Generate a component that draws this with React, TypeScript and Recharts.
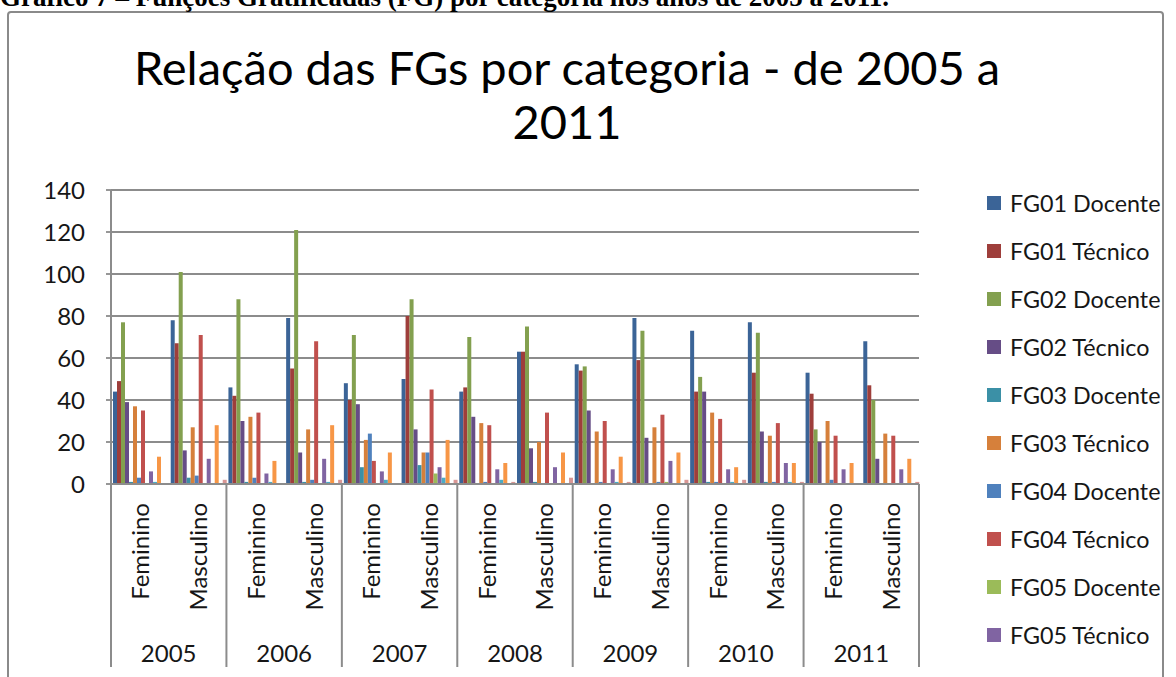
import React from 'react';
import { BarChart, Bar, XAxis, YAxis, CartesianGrid, Legend } from 'recharts';

const years = ['2005', '2006', '2007', '2008', '2009', '2010', '2011'];
const sexes = ['Feminino', 'Masculino'];
const yTicks = [0, 20, 40, 60, 80, 100, 120, 140];

const seriesNames = [
  'FG01 Docente', 'FG01 Técnico', 'FG02 Docente', 'FG02 Técnico', 'FG03 Docente',
  'FG03 Técnico', 'FG04 Docente', 'FG04 Técnico', 'FG05 Docente', 'FG05 Técnico',
  'FG06 Docente', 'FG06 Técnico', 'FG07 Docente', 'FG07 Técnico',
];
const seriesColors = [
  '#3B6497', '#9E3E3B', '#83A04F', '#664D86', '#3B90A6', '#D6803B', '#4F81BD',
  '#C0504D', '#9BBB59', '#8064A2', '#4BACC6', '#F79646', '#95B3D7', '#D99694',
];
// the legend box of the original only has room for the first ten entries
const legendShown = 10;

// order: 2005 F, 2005 M, 2006 F, 2006 M, ... 2011 F, 2011 M
const fg01Docente = [44, 78, 46, 79, 48, 50, 44, 63, 57, 79, 73, 77, 53, 68];
const fg01Tecnico = [49, 67, 42, 55, 40, 80, 46, 63, 54, 59, 44, 53, 43, 47];
const fg02Docente = [77, 101, 88, 121, 71, 88, 70, 75, 56, 73, 51, 72, 26, 40];
const fg02Tecnico = [39, 16, 30, 15, 38, 26, 32, 17, 35, 22, 44, 25, 20, 12];
const fg03Docente = [1, 3, 1, 1, 8, 9, 0, 1, 0, 0, 1, 1, 0, 0];
const fg03Tecnico = [37, 27, 32, 26, 21, 15, 29, 20, 25, 27, 34, 23, 30, 24];
const fg04Docente = [3, 4, 3, 2, 24, 15, 1, 0, 1, 1, 1, 1, 2, 0];
const fg04Tecnico = [35, 71, 34, 68, 11, 45, 28, 34, 30, 33, 31, 29, 23, 23];
const fg05Docente = [0, 0, 0, 0, 0, 5, 0, 0, 0, 1, 0, 0, 0, 0];
const fg05Tecnico = [6, 12, 5, 12, 6, 8, 7, 8, 7, 11, 7, 10, 7, 7];
const fg06Docente = [1, 0, 1, 1, 2, 3, 2, 0, 1, 0, 1, 1, 0, 0];
const fg06Tecnico = [13, 28, 11, 28, 15, 21, 10, 15, 13, 15, 8, 10, 10, 12];
const fg07Docente = [0, 0, 0, 0, 0, 0, 0, 0, 0, 0, 0, 0, 0, 0];
const fg07Tecnico = [0, 2, 0, 2, 0, 2, 1, 3, 1, 2, 2, 1, 0, 1];

const seriesValues = [
  fg01Docente, fg01Tecnico, fg02Docente, fg02Tecnico, fg03Docente, fg03Tecnico, fg04Docente,
  fg04Tecnico, fg05Docente, fg05Tecnico, fg06Docente, fg06Tecnico, fg07Docente, fg07Tecnico,
];

const data = years.flatMap((yr, yi) =>
  sexes.map((sx, si) => {
    const idx = yi * 2 + si;
    const row: Record<string, any> = { key: `${yr}|${sx}`, year: yr, sex: sx };
    seriesNames.forEach((_, k) => {
      row[`s${k}`] = seriesValues[k][idx];
    });
    return row;
  })
);

const FONT = 'Lato, "Open Sans", sans-serif';
const TEXT = '#161616';
const GRID = '#8c8c8c';

const SexTick = (props: any) => {
  const { x, y, payload } = props;
  const ty = y + 19;
  return (
    <text
      x={x}
      y={ty}
      transform={`rotate(-90 ${x} ${ty})`}
      textAnchor="end"
      dominantBaseline="central"
      fontSize={24}
      fontFamily={FONT}
      fill={TEXT}
    >
      {payload.value}
    </text>
  );
};

const YearTick = (props: any) => {
  const { x, y, payload, index } = props;
  const [yr, sx] = String(payload.value).split('|');
  const half = payload.offset || 0;
  const top = y - 121;
  const bottom = y + 62;
  const isFirst = sx === sexes[0];
  const isLast = index === data.length - 1;
  return (
    <g>
      {isFirst && (
        <line x1={x - half} x2={x - half} y1={top} y2={bottom} stroke={GRID} strokeWidth={2} />
      )}
      {isLast && (
        <line x1={x + half} x2={x + half} y1={top} y2={bottom} stroke={GRID} strokeWidth={2} />
      )}
      {isFirst && (
        <text
          x={x + half}
          y={y + 47}
          textAnchor="middle"
          dominantBaseline="central"
          fontSize={24}
          fontFamily={FONT}
          fill={TEXT}
        >
          {yr}
        </text>
      )}
    </g>
  );
};

const LegendContent = () => (
  <div style={{ fontFamily: FONT, fontSize: 23.3, color: TEXT }}>
    {seriesNames.slice(0, legendShown).map((n, i) => (
      <div key={n} style={{ height: 48, display: 'flex', alignItems: 'center', whiteSpace: 'nowrap' }}>
        <span
          style={{
            display: 'inline-block',
            width: 14,
            height: 14,
            background: seriesColors[i],
            marginRight: 9,
          }}
        />
        <span>{n}</span>
      </div>
    ))}
  </div>
);

const W = 1176;
const H = 900;

export default function App() {
  return (
    <div style={{ position: 'absolute', left: 0, top: 0, width: W, height: H, background: '#fff', overflow: 'hidden' }}>
      <div
        style={{
          position: 'absolute',
          left: 7,
          top: 11,
          width: 1157,
          height: H,
          border: `2px solid #8a8a8a`,
          borderRadius: 4,
          boxSizing: 'border-box',
        }}
      />
      <BarChart
        width={W}
        height={H}
        data={data}
        margin={{ top: 190, right: 257, bottom: H - 484 - 183, left: 0 }}
        barGap={0}
        barCategoryGap={2}
        style={{ position: 'absolute', left: 0, top: 0 }}
      >
        <CartesianGrid horizontal vertical={false} stroke={GRID} strokeWidth={1.8} />
        <XAxis
          xAxisId="sex"
          dataKey="sex"
          height={121}
          interval={0}
          tickSize={0}
          tickMargin={0}
          tickLine={false}
          axisLine={{ stroke: GRID, strokeWidth: 2 }}
          tick={<SexTick />}
        />
        <XAxis
          xAxisId="year"
          dataKey="key"
          height={62}
          interval={0}
          tickSize={0}
          tickMargin={0}
          tickLine={false}
          axisLine={false}
          tick={<YearTick />}
        />
        <YAxis
          width={111}
          domain={[0, 140]}
          ticks={yTicks}
          interval={0}
          tickSize={5}
          tickMargin={21}
          tickLine={{ stroke: GRID, strokeWidth: 1.8 }}
          axisLine={{ stroke: GRID, strokeWidth: 2 }}
          tick={{ fontSize: 24, fontFamily: FONT, fill: TEXT }}
        />
        <Legend
          layout="vertical"
          align="center"
          verticalAlign="middle"
          wrapperStyle={{ left: 987, top: 179, width: 185 }}
          content={<LegendContent />}
        />
        {seriesNames.map((n, k) => (
          <Bar
            key={n}
            name={n}
            dataKey={`s${k}`}
            xAxisId="sex"
            fill={seriesColors[k]}
            isAnimationActive={false}
          />
        ))}
      </BarChart>
      <svg width={W} height={H} style={{ position: 'absolute', left: 0, top: 0, pointerEvents: 'none' }}>
        <text
          x={0}
          y={5.5}
          fontFamily='"Liberation Serif", "Times New Roman", serif'
          fontWeight="bold"
          fontSize={27}
          fill="#000"
        >
          Gráfico 7 – Funções Gratificadas (FG) por categoria nos anos de 2005 a 2011.
        </text>
        <text x={567} y={85} textAnchor="middle" fontFamily={FONT} fontSize={47} fill="#000">
          Relação das FGs por categoria - de 2005 a
        </text>
        <text x={567} y={139} textAnchor="middle" fontFamily={FONT} fontSize={47} fill="#000">
          2011
        </text>
      </svg>
    </div>
  );
}
